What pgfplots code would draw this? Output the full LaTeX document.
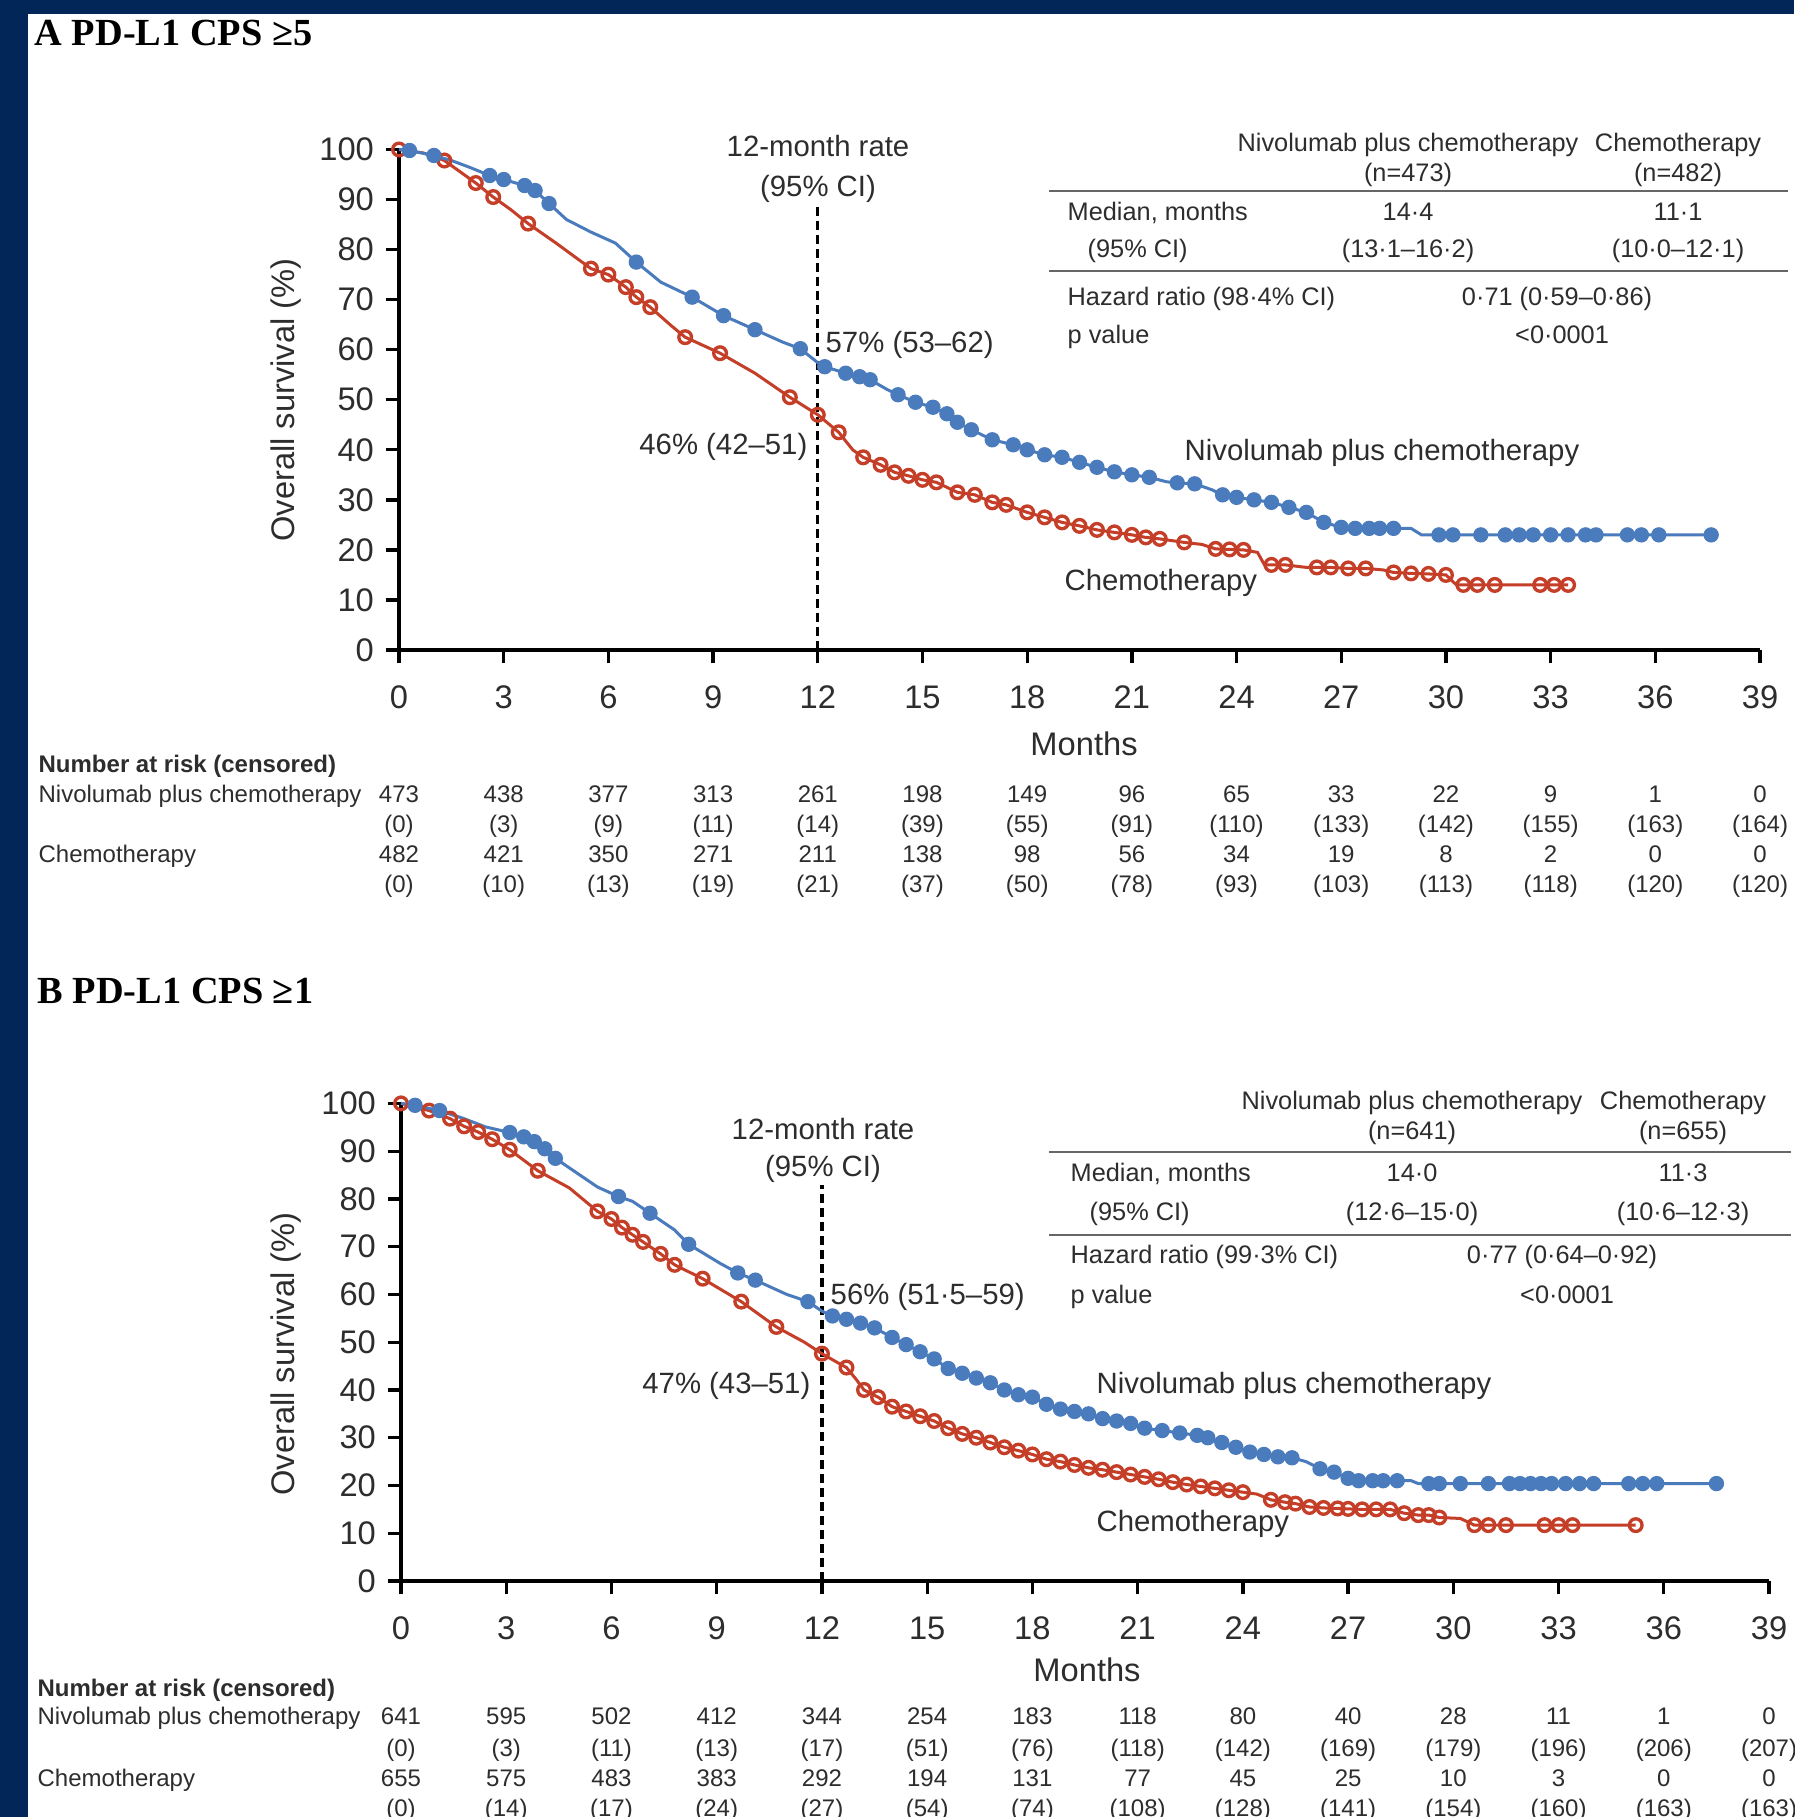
\documentclass[border=0pt]{standalone}
\usepackage{fontspec}
\setmainfont{Liberation Sans}
\newfontfamily\titlefont{Liberation Serif}
\usepackage{pgfplots}
\pgfplotsset{compat=1.18}
\usepackage{pgfplotstable}

\definecolor{navy}{RGB}{3,38,88}
\definecolor{kmblue}{RGB}{74,123,189}
\definecolor{kmred}{RGB}{196,62,40}
\definecolor{txt}{RGB}{45,45,45}

\pgfplotsset{
  kmaxis/.style={
    scale only axis, axis lines*=left,
    xmin=0, xmax=39, ymin=0, ymax=100,
    xtick={0,3,...,39}, ytick={0,10,...,100},
    tick align=outside, major tick length=4pt,
    axis line style={line width=1pt, black},
    every tick/.style={line width=1pt, black},
    tick label style={font=\fontsize{9.8}{10}\selectfont, text=txt},
    xticklabel style={yshift=-3.2pt},
    /pgf/number format/assume math mode=true,
    clip=false,
  },
  nivoline/.style={kmblue, line width=0.9pt, no marks},
  chemoline/.style={kmred, line width=0.9pt, no marks},
  nivomarks/.style={scatter, only marks, point meta=explicit symbolic,
     scatter/classes={0={mark=none}, 1={mark=*, mark size=2.1pt, draw=kmblue, fill=kmblue}}},
  chemomarks/.style={scatter, only marks, point meta=explicit symbolic,
     scatter/classes={0={mark=none}, 1={mark=o, mark size=1.9pt, line width=1pt, draw=kmred}}},
}

% Panel A, Nivolumab plus chemotherapy (c = 1: censoring mark)
\pgfplotstableread{
x y c
0 100 0
0.3 99.8 1
1.0 98.8 1
1.5 97.8 0
2.0 96.5 0
2.6 94.8 1
3.0 94.0 1
3.6 92.8 1
3.9 91.8 1
4.3 89.2 1
4.8 86.0 0
5.5 83.5 0
6.2 81.3 0
6.8 77.5 1
7.5 73.5 0
8.4 70.5 1
9.3 66.8 1
10.2 64.0 1
11.0 61.5 0
11.5 60.2 1
12.0 57.4 0
12.2 56.6 1
12.8 55.3 1
13.2 54.6 1
13.5 54.0 1
14.0 52.0 0
14.3 51.0 1
14.8 49.5 1
15.3 48.5 1
15.7 47.2 1
16.0 45.5 1
16.4 44.0 1
17.0 42.0 1
17.6 41.0 1
18.0 40.0 1
18.5 39.0 1
19.0 38.5 1
19.5 37.5 1
20.0 36.5 1
20.5 35.6 1
21.0 35.0 1
21.5 34.5 1
22.0 33.6 0
22.3 33.4 1
22.8 33.2 1
23.3 32.0 0
23.6 31.0 1
24.0 30.5 1
24.5 30.0 1
25.0 29.5 1
25.5 28.5 1
26.0 27.5 1
26.5 25.5 1
27.0 24.5 1
27.4 24.3 1
27.8 24.3 1
28.1 24.3 1
28.5 24.3 1
29.0 24.3 0
29.3 23.0 0
29.8 23.0 1
30.2 23.0 1
31.0 23.0 1
31.7 23.0 1
32.1 23.0 1
32.5 23.0 1
33.0 23.0 1
33.5 23.0 1
34.0 23.0 1
34.3 23.0 1
35.2 23.0 1
35.6 23.0 1
36.1 23.0 1
37.6 23.0 1
}\nivoA

% Panel A, Chemotherapy
\pgfplotstableread{
x y c
0 100 1
0.7 99.3 0
1.3 97.8 1
2.2 93.3 1
2.7 90.5 1
3.2 88.0 0
3.7 85.2 1
4.5 81.3 0
5.5 76.2 1
6.0 75.0 1
6.5 72.5 1
6.8 70.5 1
7.2 68.5 1
7.8 64.8 0
8.2 62.5 1
9.2 59.3 1
10.2 55.3 0
11.2 50.5 1
12.0 47.0 1
12.6 43.5 1
13.0 40.0 0
13.3 38.5 1
13.8 37.0 1
14.2 35.5 1
14.6 34.8 1
15.0 34.0 1
15.4 33.5 1
16.0 31.5 1
16.5 31.0 1
17.0 29.5 1
17.4 29.0 1
18.0 27.5 1
18.5 26.5 1
19.0 25.5 1
19.5 24.8 1
20.0 24.0 1
20.5 23.5 1
21.0 23.0 1
21.4 22.5 1
21.8 22.2 1
22.5 21.5 1
23.0 21.1 0
23.4 20.2 1
23.8 20.1 1
24.2 20.0 1
24.6 19.5 0
24.8 17.0 0
25.0 17.0 1
25.4 17.0 1
26.0 16.5 0
26.3 16.5 1
26.7 16.5 1
27.2 16.3 1
27.7 16.3 1
28.2 16.0 0
28.5 15.5 1
29.0 15.3 1
29.5 15.2 1
30.0 15.0 1
30.3 13.0 0
30.5 13.0 1
30.9 13.0 1
31.4 13.0 1
32.7 13.0 1
33.1 13.0 1
33.5 13.0 1
}\chemoA

% Panel B, Nivolumab plus chemotherapy
\pgfplotstableread{
x y c
0 100 0
0.4 99.6 1
1.1 98.5 1
1.8 96.8 0
2.4 95.1 0
3.1 93.9 1
3.5 93.0 1
3.8 92.0 1
4.1 90.5 1
4.4 88.5 1
5.0 85.5 0
5.6 82.5 0
6.2 80.5 1
6.6 79.5 0
7.1 77.0 1
7.8 73.5 0
8.2 70.5 1
9.1 66.5 0
9.6 64.5 1
10.1 63.0 1
11.0 60.0 0
11.6 58.5 1
12.0 56.5 0
12.3 55.5 1
12.7 54.8 1
13.1 54.0 1
13.5 53.0 1
14.0 51.0 1
14.4 49.5 1
14.8 48.0 1
15.2 46.5 1
15.6 44.5 1
16.0 43.5 1
16.4 42.5 1
16.8 41.5 1
17.2 40.0 1
17.6 39.0 1
18.0 38.5 1
18.4 37.0 1
18.8 36.0 1
19.2 35.5 1
19.6 35.0 1
20.0 34.0 1
20.4 33.5 1
20.8 33.0 1
21.2 32.0 1
21.7 31.5 1
22.2 31.0 1
22.7 30.5 1
23.0 30.0 1
23.4 29.0 1
23.8 28.0 1
24.2 27.0 1
24.6 26.5 1
25.0 26.0 1
25.4 25.8 1
25.8 25.0 0
26.2 23.5 1
26.6 22.8 1
27.0 21.5 1
27.3 21.0 1
27.7 21.0 1
28.0 21.0 1
28.4 21.0 1
28.8 21.0 0
29.0 20.4 0
29.3 20.4 1
29.6 20.4 1
30.2 20.4 1
31.0 20.4 1
31.6 20.4 1
31.9 20.4 1
32.2 20.4 1
32.5 20.4 1
32.8 20.4 1
33.2 20.4 1
33.6 20.4 1
34.0 20.4 1
35.0 20.4 1
35.4 20.4 1
35.8 20.4 1
37.5 20.4 1
}\nivoB

% Panel B, Chemotherapy
\pgfplotstableread{
x y c
0 100 1
0.8 98.5 1
1.4 96.8 1
1.8 95.2 1
2.2 94.0 1
2.6 92.5 1
3.1 90.3 1
3.9 85.9 1
4.8 82.3 0
5.6 77.4 1
6.0 75.8 1
6.3 74.0 1
6.6 72.5 1
6.9 71.0 1
7.4 68.5 1
7.8 66.2 1
8.6 63.3 1
9.7 58.5 1
10.7 53.2 1
11.5 50.0 0
12.0 47.6 1
12.5 45.5 0
12.7 44.7 1
13.0 42.0 0
13.2 40.0 1
13.6 38.5 1
14.0 36.5 1
14.4 35.5 1
14.8 34.5 1
15.2 33.5 1
15.6 32.0 1
16.0 30.8 1
16.4 30.0 1
16.8 29.0 1
17.2 28.0 1
17.6 27.3 1
18.0 26.5 1
18.4 25.5 1
18.8 25.0 1
19.2 24.3 1
19.6 23.7 1
20.0 23.3 1
20.4 22.8 1
20.8 22.3 1
21.2 21.8 1
21.6 21.3 1
22.0 20.7 1
22.4 20.2 1
22.8 19.8 1
23.2 19.4 1
23.6 19.0 1
24.0 18.6 1
24.4 18.2 0
24.8 17.0 1
25.2 16.5 1
25.5 16.2 1
25.9 15.5 1
26.3 15.3 1
26.7 15.2 1
27.0 15.1 1
27.4 15.0 1
27.8 15.0 1
28.2 15.0 1
28.6 14.2 1
29.0 13.8 1
29.3 13.8 1
29.6 13.3 1
30.2 13.1 0
30.6 11.7 1
31.0 11.7 1
31.5 11.7 1
32.6 11.7 1
33.0 11.7 1
33.4 11.7 1
35.2 11.7 1
}\chemoB

\newcommand{\fannot}{\fontsize{8.8}{10}\selectfont}
\newcommand{\ftab}{\fontsize{7.6}{9}\selectfont}
\newcommand{\frisk}{\fontsize{7.2}{8.5}\selectfont}
\newcommand{\flab}{\fontsize{9.8}{11}\selectfont}
\newcommand{\ftitle}{\titlefont\bfseries\fontsize{11.5}{13}\selectfont}

\begin{document}
\begin{tikzpicture}
% page and frame (1 px = 0.3pt)
\fill[navy] (0,0) rectangle (538.2pt,-545.1pt);
\fill[white] (8.4pt,-4.2pt) rectangle (538.2pt,-545.1pt);
\path[use as bounding box] (0,0) rectangle (538.2pt,-545.1pt);

% ---------------- Panel A ----------------
\begin{axis}[kmaxis, at={(119.7pt,-195pt)}, anchor=south west,
  width=408.3pt, height=150.15pt]
\addplot[black, line width=1pt, dash pattern=on 2.6pt off 1.6pt] coordinates {(12,0) (12,88.7)};
\addplot[chemoline] table[x=x,y=y] {\chemoA};
\addplot[nivoline] table[x=x,y=y] {\nivoA};
\addplot[chemomarks] table[x=x,y=y,meta=c] {\chemoA};
\addplot[nivomarks] table[x=x,y=y,meta=c] {\nivoA};
\end{axis}

% ---------------- Panel B ----------------
\begin{axis}[kmaxis, at={(120.3pt,-474.3pt)}, anchor=south west,
  width=410.4pt, height=143.28pt]
\addplot[black, line width=1pt, dash pattern=on 2.6pt off 1.6pt] coordinates {(12,0) (12,83)};
\addplot[chemoline] table[x=x,y=y] {\chemoB};
\addplot[nivoline] table[x=x,y=y] {\nivoB};
\addplot[chemomarks] table[x=x,y=y,meta=c] {\chemoB};
\addplot[nivomarks] table[x=x,y=y,meta=c] {\nivoB};
\end{axis}

\begin{scope}[x=0.3pt, y=-0.3pt, every node/.style={text=txt, inner sep=0pt}]
% ----- Panel A texts -----
\node[anchor=base west, text=black] at (34,46) {\ftitle A PD-L1 CPS ≥5};
\node[rotate=90] at (286,400) {\flab Overall survival (\%)};
\node at (1084,744) {\flab Months};
\node[anchor=mid] at (818,148) {\fannot 12-month rate};
\node[anchor=mid] at (818,188) {\fannot (95\% CI)};
\node[anchor=mid west] at (825,344) {\fannot 57\% (53–62)};
\node[anchor=mid east] at (808,446) {\fannot 46\% (42–51)};
\node[anchor=mid west] at (1184,452) {\fannot Nivolumab plus chemotherapy};
\node[anchor=mid west] at (1064,582) {\fannot Chemotherapy};
% info table A
\node[anchor=mid] at (1408,143) {\ftab Nivolumab plus chemotherapy};
\node[anchor=mid] at (1678,143) {\ftab Chemotherapy};
\node[anchor=mid] at (1408,173) {\ftab (n=473)};
\node[anchor=mid] at (1678,173) {\ftab (n=482)};
\draw[gray!80!black, line width=0.8pt] (1049,191) -- (1788,191);
\node[anchor=mid west] at (1067,212) {\ftab Median, months};
\node[anchor=mid] at (1408,212) {\ftab 14·4};
\node[anchor=mid] at (1678,212) {\ftab 11·1};
\node[anchor=mid west] at (1087,249) {\ftab (95\% CI)};
\node[anchor=mid] at (1408,249) {\ftab (13·1–16·2)};
\node[anchor=mid] at (1678,249) {\ftab (10·0–12·1)};
\draw[gray!80!black, line width=0.8pt] (1049,271) -- (1788,271);
\node[anchor=mid west] at (1067,297) {\ftab Hazard ratio (98·4\% CI)};
\node[anchor=mid] at (1557,297) {\ftab 0·71 (0·59–0·86)};
\node[anchor=mid west] at (1067,335) {\ftab p value};
\node[anchor=mid] at (1562,335) {\ftab <0·0001};
% risk table A
\node[anchor=mid west] at (38,764) {\frisk\bfseries Number at risk (censored)};
\node[anchor=mid west] at (38,794) {\frisk Nivolumab plus chemotherapy};
\node[anchor=mid west] at (38,854) {\frisk Chemotherapy};
\foreach \v [count=\i from 0] in {473,438,377,313,261,198,149,96,65,33,22,9,1,0}
  \node[anchor=mid] at ({399+\i*104.69},794) {\frisk \v};
\foreach \v [count=\i from 0] in {0,3,9,11,14,39,55,91,110,133,142,155,163,164}
  \node[anchor=mid] at ({399+\i*104.69},824) {\frisk (\v)};
\foreach \v [count=\i from 0] in {482,421,350,271,211,138,98,56,34,19,8,2,0,0}
  \node[anchor=mid] at ({399+\i*104.69},854) {\frisk \v};
\foreach \v [count=\i from 0] in {0,10,13,19,21,37,50,78,93,103,113,118,120,120}
  \node[anchor=mid] at ({399+\i*104.69},884) {\frisk (\v)};

% ----- Panel B texts -----
\node[anchor=base west, text=black] at (37,1003) {\ftitle B PD-L1 CPS ≥1};
\node[rotate=90] at (286,1354) {\flab Overall survival (\%)};
\node at (1087,1670) {\flab Months};
\node[anchor=mid] at (823,1131) {\fannot 12-month rate};
\node[anchor=mid] at (823,1168) {\fannot (95\% CI)};
\node[anchor=mid west] at (830,1296) {\fannot 56\% (51·5–59)};
\node[anchor=mid east] at (811,1385) {\fannot 47\% (43–51)};
\node[anchor=mid west] at (1096,1385) {\fannot Nivolumab plus chemotherapy};
\node[anchor=mid west] at (1096,1523) {\fannot Chemotherapy};
% info table B
\node[anchor=mid] at (1412,1101) {\ftab Nivolumab plus chemotherapy};
\node[anchor=mid] at (1683,1101) {\ftab Chemotherapy};
\node[anchor=mid] at (1412,1131) {\ftab (n=641)};
\node[anchor=mid] at (1683,1131) {\ftab (n=655)};
\draw[gray!80!black, line width=0.8pt] (1049,1152) -- (1791,1152);
\node[anchor=mid west] at (1070,1173) {\ftab Median, months};
\node[anchor=mid] at (1412,1173) {\ftab 14·0};
\node[anchor=mid] at (1683,1173) {\ftab 11·3};
\node[anchor=mid west] at (1089,1212) {\ftab (95\% CI)};
\node[anchor=mid] at (1412,1212) {\ftab (12·6–15·0)};
\node[anchor=mid] at (1683,1212) {\ftab (10·6–12·3)};
\draw[gray!80!black, line width=0.8pt] (1049,1235) -- (1791,1235);
\node[anchor=mid west] at (1070,1255) {\ftab Hazard ratio (99·3\% CI)};
\node[anchor=mid] at (1562,1255) {\ftab 0·77 (0·64–0·92)};
\node[anchor=mid west] at (1070,1295) {\ftab p value};
\node[anchor=mid] at (1567,1295) {\ftab <0·0001};
% risk table B
\node[anchor=mid west] at (37,1688) {\frisk\bfseries Number at risk (censored)};
\node[anchor=mid west] at (37,1716) {\frisk Nivolumab plus chemotherapy};
\node[anchor=mid west] at (37,1778) {\frisk Chemotherapy};
\foreach \v [count=\i from 0] in {641,595,502,412,344,254,183,118,80,40,28,11,1,0}
  \node[anchor=mid] at ({401+\i*105.23},1716) {\frisk \v};
\foreach \v [count=\i from 0] in {0,3,11,13,17,51,76,118,142,169,179,196,206,207}
  \node[anchor=mid] at ({401+\i*105.23},1748) {\frisk (\v)};
\foreach \v [count=\i from 0] in {655,575,483,383,292,194,131,77,45,25,10,3,0,0}
  \node[anchor=mid] at ({401+\i*105.23},1778) {\frisk \v};
\foreach \v [count=\i from 0] in {0,14,17,24,27,54,74,108,128,141,154,160,163,163}
  \node[anchor=mid] at ({401+\i*105.23},1808) {\frisk (\v)};
\end{scope}
\end{tikzpicture}
\end{document}
